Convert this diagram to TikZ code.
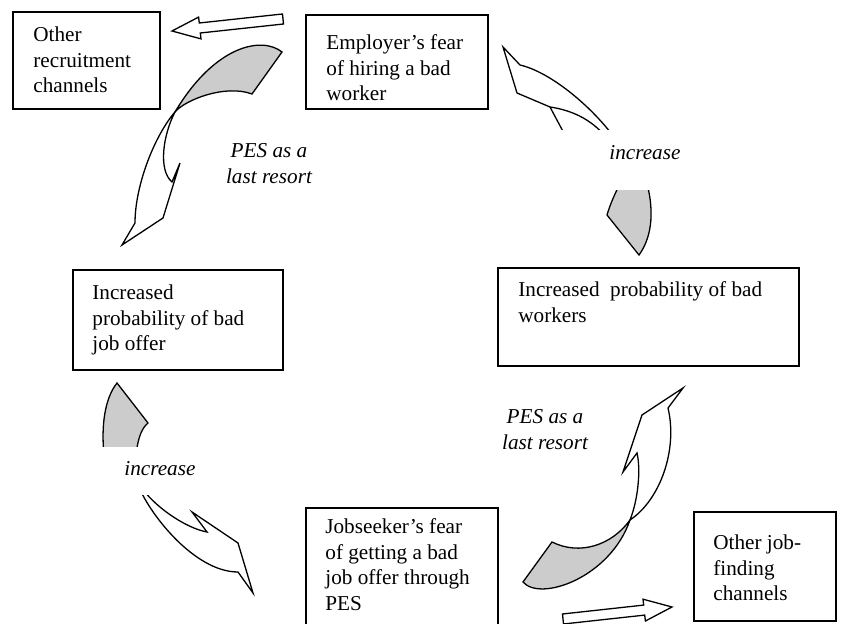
\documentclass[tikz,border=0pt]{standalone}
\usepackage{fontspec}
\setmainfont{Liberation Serif}
\begin{document}
\begin{tikzpicture}[x=0.5pt,y=-0.5pt,
  bx/.style={draw, line width=1pt, anchor=north west, inner sep=0pt},
  txt/.style={anchor=base west, inner sep=0pt, font=\fontsize{10.6}{12.75}\selectfont},
  lab/.style={inner sep=0pt, font=\fontsize{10.6}{12.75}\selectfont\itshape},
  arr/.style={draw, line width=0.65pt, fill=white},
  tw/.style={draw, line width=0.65pt, fill=gray!40}]
\useasboundingbox (0,0) rectangle (847,624);

% curved arrow: employer's fear -> bad job offer
\path[tw] (282,52) .. controls (262,36) and (215,45) .. (175,112)
  .. controls (185,100) and (225,84) .. (252,94) -- cycle;
\path[arr] (175,112) .. controls (155,135) and (135,185) .. (135,223)
  -- (122,245) -- (163,218) -- (180,163) -- (172,182)
  .. controls (158,170) and (163,135) .. (175,112) -- cycle;

% curved arrow: bad workers -> employer's fear (partly hidden by label)
\path[arr] (503,47) -- (520,65) .. controls (550,72) and (590,105) .. (614,137)
  -- (606,137) .. controls (590,118) and (570,110) .. (550,107) -- (517,93) -- cycle;
\draw[line width=0.65pt] (550,107) -- (566,137);
\path[tw] (622,180) .. controls (614,195) and (610,205) .. (607,215) -- (639,255)
  .. controls (650,240) and (656,215) .. (646,180) -- cycle;

% curved arrow: bad job offer -> jobseeker's fear (partly hidden by label)
\path[tw] (117,383) -- (148,423) .. controls (142,428) and (138,437) .. (136,455)
  -- (104,455) .. controls (101,425) and (105,398) .. (117,383) -- cycle;
\path[arr] (138,485) .. controls (150,515) and (195,572) .. (238,572) -- (253,593)
  -- (238,543) -- (192,512) -- (207,532) .. controls (185,528) and (152,505) .. (140,485) -- cycle;

% curved arrow: jobseeker's fear -> bad workers
\path[tw] (630,520) .. controls (612,545) and (580,556) .. (552,542) -- (523,582)
  .. controls (540,602) and (610,578) .. (630,520) -- cycle;
\path[arr] (630,520) .. controls (660,500) and (678,450) .. (668,408) -- (683,388)
  -- (642,415) -- (623,472) -- (637,453) .. controls (641,470) and (638,500) .. (630,520) -- cycle;

% straight block arrows
\path[arr] (282.5,14) -- (199.3,23) -- (198.6,17.1) -- (172,31) -- (201,38.9) -- (200.3,33) -- (283.5,24) -- cycle;
\path[arr] (562.5,614) -- (643.7,605.1) -- (643,599.2) -- (672,607) -- (645.4,621) -- (644.7,615.1) -- (563.5,624) -- cycle;

% white label backgrounds
\fill[white] (553,130) rectangle (700,190);
\fill[white] (95,447) rectangle (215,495);

% boxes
\node[bx, minimum width=73.5pt, minimum height=48.5pt] (orc) at (12,11) {};
\node[bx, minimum width=91pt, minimum height=47pt] (emp) at (305,14) {};
\node[bx, minimum width=150.5pt, minimum height=49pt] (bwk) at (497,267) {};
\node[bx, minimum width=105pt, minimum height=50pt] (bjo) at (72,269) {};
\node[bx, minimum width=96pt, minimum height=65pt] (jsk) at (305,507) {};
\node[bx, minimum width=71pt, minimum height=54.5pt] (ojf) at (693,511) {};

% box texts
\node[txt] (torc) at (33,42) {\begin{minipage}[t]{200pt}Other\\recruitment\\channels\end{minipage}};
\node[txt] (temp) at (326,50) {\begin{minipage}[t]{200pt}Employer’s fear\\of hiring a bad\\worker\end{minipage}};
\node[txt] (tbwk) at (518,297) {\begin{minipage}[t]{200pt}Increased~ probability of bad\\workers\end{minipage}};
\node[txt] (tbjo) at (92,300) {\begin{minipage}[t]{200pt}Increased\\probability of bad\\job offer\end{minipage}};
\node[txt] (tjsk) at (325,534) {\begin{minipage}[t]{200pt}Jobseeker’s fear\\of getting a bad\\job offer through\\PES\end{minipage}};
\node[txt] (tojf) at (713,550) {\begin{minipage}[t]{200pt}Other job-\\finding\\channels\end{minipage}};

% labels
\node[lab, anchor=base] (l1) at (269,158) {\begin{minipage}[t]{100pt}\centering PES as a\\last resort\end{minipage}};
\node[lab, anchor=base] (l2) at (545,424) {\begin{minipage}[t]{100pt}\centering PES as a\\last resort\end{minipage}};
\node[lab, anchor=base west] (l3) at (609,160) {increase};
\node[lab, anchor=base west] (l4) at (124,476) {increase};
\end{tikzpicture}
\end{document}
